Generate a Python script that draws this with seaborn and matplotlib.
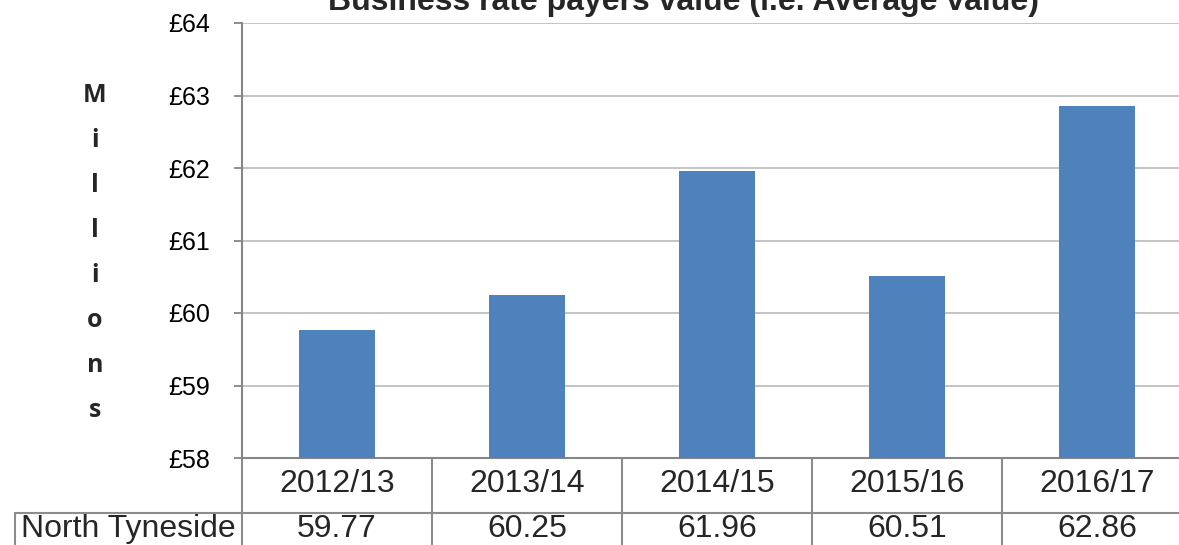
import matplotlib
matplotlib.use("Agg")
import matplotlib.pyplot as plt
import matplotlib.transforms as mtransforms
import pandas as pd
import seaborn as sns

# Average business rate payer value, North Tyneside (£ millions)
years = ["2012/13", "2013/14", "2014/15", "2015/16", "2016/17"]
values = [59.77, 60.25, 61.96, 60.51, 62.86]
series_name = "North Tyneside"
y_ticks = [58, 59, 60, 61, 62, 63, 64]
title = "Business rate payers value (i.e. Average value)"
axis_label = "Millions"

sns.set_theme(style="white")
plt.rcParams["font.family"] = ["Liberation Sans", "DejaVu Sans"]

W, H = 1179, 545
fig = plt.figure(figsize=(W / 100, H / 100), dpi=100)

# plot area in pixel terms (left, top, right, bottom)
L, T, R, B = 242, 23, 1192, 458
ax = fig.add_axes([L / W, 1 - B / H, (R - L) / W, (B - T) / H])

df = pd.DataFrame({"year": years, "value": values})
sns.barplot(data=df, x="year", y="value", color="#4F81BD", saturation=1,
            width=0.4, linewidth=0, ax=ax, zorder=3)

ax.set_xlim(-0.5, len(years) - 0.5)
ax.set_ylim(y_ticks[0], y_ticks[-1])
ax.set_yticks(y_ticks)
ax.set_yticklabels([f"£{t}" for t in y_ticks], fontsize=18, color="black")
ax.set_xticks([])
ax.set_xlabel("")
ax.set_ylabel("")
ax.yaxis.grid(True, color="#BFBFBF", linewidth=1.3, zorder=0)
ax.tick_params(axis="y", which="major", direction="out", length=5.8,
               width=1.3, color="#868686", pad=17, left=True)

for side in ("top", "right"):
    ax.spines[side].set_visible(False)
ax.spines["left"].set_color("#868686")
ax.spines["left"].set_linewidth(1.5)
ax.spines["bottom"].set_color("#868686")
ax.spines["bottom"].set_linewidth(1.5)

# data table under the axis: x in data units, y in figure pixels from top
trans = mtransforms.blended_transform_factory(ax.transData, fig.transFigure)
def fy(py):
    return 1 - py / H

grid_kw = dict(color="#8C8C8C", linewidth=1.5, clip_on=False, transform=trans)
row1_bottom = 513
for i in range(len(years) + 1):
    ax.plot([i - 0.5, i - 0.5], [fy(B), fy(H + 5)], **grid_kw)

# horizontal divider spanning row header and columns
hdr_left = ax.transData.inverted().transform((15, 0))[0]
ax.plot([hdr_left, len(years) - 0.5], [fy(row1_bottom), fy(row1_bottom)], **grid_kw)
ax.plot([hdr_left, hdr_left], [fy(row1_bottom), fy(H + 5)], **grid_kw)

for i, (yr, v) in enumerate(zip(years, values)):
    ax.text(i, fy(484), yr, ha="center", va="center", fontsize=23,
            transform=trans, clip_on=False)
    ax.text(i, fy(529), f"{v:.2f}", ha="center", va="center", fontsize=23,
            transform=trans, clip_on=False)

ax.text((hdr_left - 0.5) / 2, fy(529), series_name, ha="center", va="center",
        fontsize=23, transform=trans, clip_on=False)

# chart title, partly above the top edge
fig.text(683 / W, fy(10), title, ha="center", va="baseline", fontsize=23,
         fontweight="bold")

# stacked vertical axis label
fig.text(95 / W, fy(253), "\n".join(axis_label), ha="center", va="center",
         fontsize=18, fontweight="bold", linespacing=2.05,
         family=["Open Sans", "DejaVu Sans"])

fig.savefig("out.png", dpi=100)
